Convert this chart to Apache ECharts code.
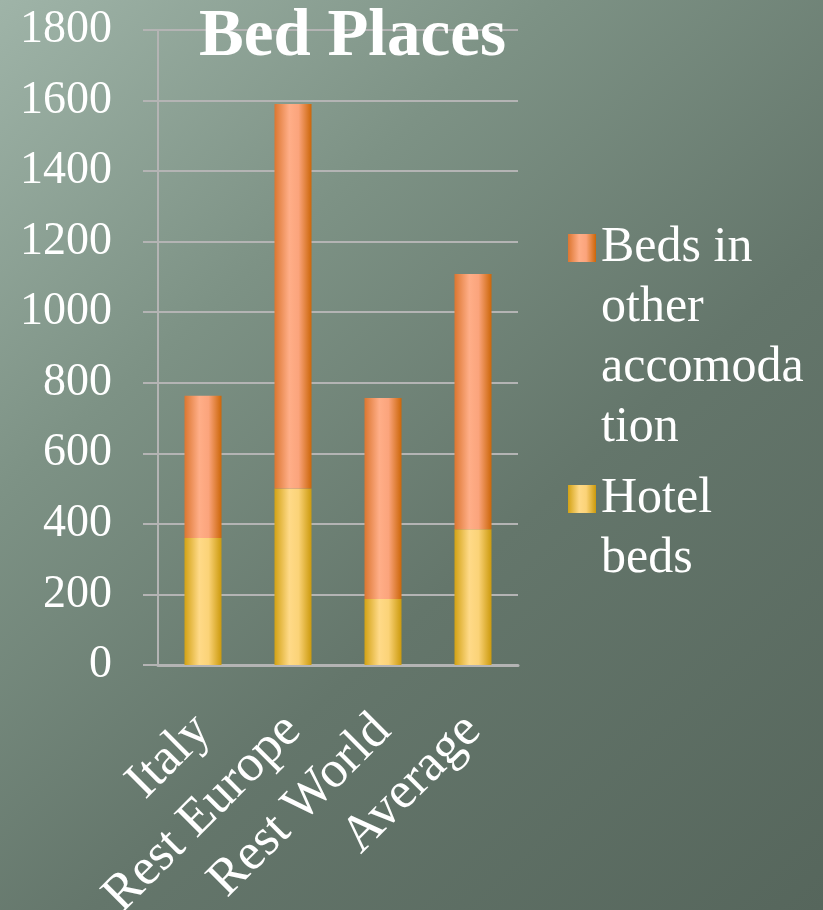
<!DOCTYPE html>
<html>
<head>
<meta charset="utf-8">
<script src="https://cdn.jsdelivr.net/npm/echarts@6/dist/echarts.min.js"></script>
<style>
  html, body { margin: 0; padding: 0; }
  #chart { width: 823px; height: 910px; }
</style>
</head>
<body>
<div id="chart"></div>
<script>
const categories = ['Italy', 'Rest Europe', 'Rest World', 'Average']
const hotelBeds = [360, 500, 187, 385]
const otherBeds = [403, 1090, 570, 723]
const seriesNames = ['Beds in other accomodation', 'Hotel beds']
// legend text wrapped as in the original slide
const legendLines = {
  'Beds in other accomodation': ['Beds in', 'other', 'accomoda', 'tion'],
  'Hotel beds': ['Hotel', 'beds'],
}

const serif = '"Liberation Serif", "DejaVu Serif", serif'
const lineH = 60

const hotelFill = new echarts.graphic.LinearGradient(0, 0, 1, 0, [
  { offset: 0, color: '#d3a214' },
  { offset: 0.4, color: '#ffda88' },
  { offset: 0.65, color: '#fbd378' },
  { offset: 1, color: '#cc9a0c' },
])
const otherFill = new echarts.graphic.LinearGradient(0, 0, 1, 0, [
  { offset: 0, color: '#dc7630' },
  { offset: 0.4, color: '#ffae88' },
  { offset: 0.65, color: '#fba47c' },
  { offset: 1, color: '#cc6608' },
])

// icon sits beside the first line: pad the text with blank lines above
// so that the first real line lands in the vertical middle
function legendItem(name, iconCenterY) {
  const lines = legendLines[name]
  const pad = lines.length - 1
  const total = lines.length + pad
  return {
    orient: 'vertical',
    left: 568,
    top: iconCenterY - (total * lineH) / 2,
    padding: 0,
    itemWidth: 28,
    itemHeight: 28,
    icon: 'rect',
    formatter: () => '\n'.repeat(pad) + lines.join('\n'),
    data: [name],
    textStyle: {
      color: '#ffffff',
      fontFamily: serif,
      fontSize: 50,
      lineHeight: lineH,
    },
  }
}

const chart = echarts.init(document.getElementById('chart'))
chart.setOption({
  backgroundColor: new echarts.graphic.LinearGradient(0, 0, 1, 1, [
    { offset: 0, color: '#9fb4a8' },
    { offset: 0.3, color: '#7d9285' },
    { offset: 0.6, color: '#64766b' },
    { offset: 1, color: '#56665c' },
  ]),
  animation: false,
  title: {
    text: 'Bed Places',
    left: 199,
    top: 4,
    padding: 0,
    textStyle: { color: '#ffffff', fontFamily: serif, fontSize: 67, fontWeight: 'bold' },
  },
  legend: [
    legendItem(seriesNames[0], 248),
    legendItem(seriesNames[1], 499),
  ],
  grid: {
    left: 158,
    right: 305,
    top: 30,
    bottom: 245,
    containLabel: false,
    outerBoundsMode: 'none',
  },
  xAxis: {
    type: 'category',
    data: categories,
    axisLine: { lineStyle: { color: '#b4b4b4', width: 3 } },
    axisTick: { length: 15, lineStyle: { color: '#b4b4b4', width: 2 } },
    axisLabel: {
      rotate: 45,
      margin: 58,
      color: '#ffffff',
      fontFamily: serif,
      fontSize: 52,
      interval: 0,
    },
  },
  yAxis: {
    type: 'value',
    min: 0,
    max: 1800,
    interval: 200,
    axisLine: { show: true, lineStyle: { color: '#b4b4b4', width: 2 } },
    axisTick: { show: true, length: 15, lineStyle: { color: '#b4b4b4', width: 2 } },
    splitLine: { lineStyle: { color: '#b4b4b4', width: 2 } },
    axisLabel: {
      margin: 46,
      color: '#ffffff',
      fontFamily: serif,
      fontSize: 46,
      formatter: (v) => String(v),
    },
  },
  series: [
    {
      name: seriesNames[1],
      type: 'bar',
      stack: 'beds',
      barWidth: 37,
      data: hotelBeds,
      itemStyle: { color: hotelFill },
    },
    {
      name: seriesNames[0],
      type: 'bar',
      stack: 'beds',
      barWidth: 37,
      data: otherBeds,
      itemStyle: { color: otherFill },
    },
  ],
})
</script>
</body>
</html>
